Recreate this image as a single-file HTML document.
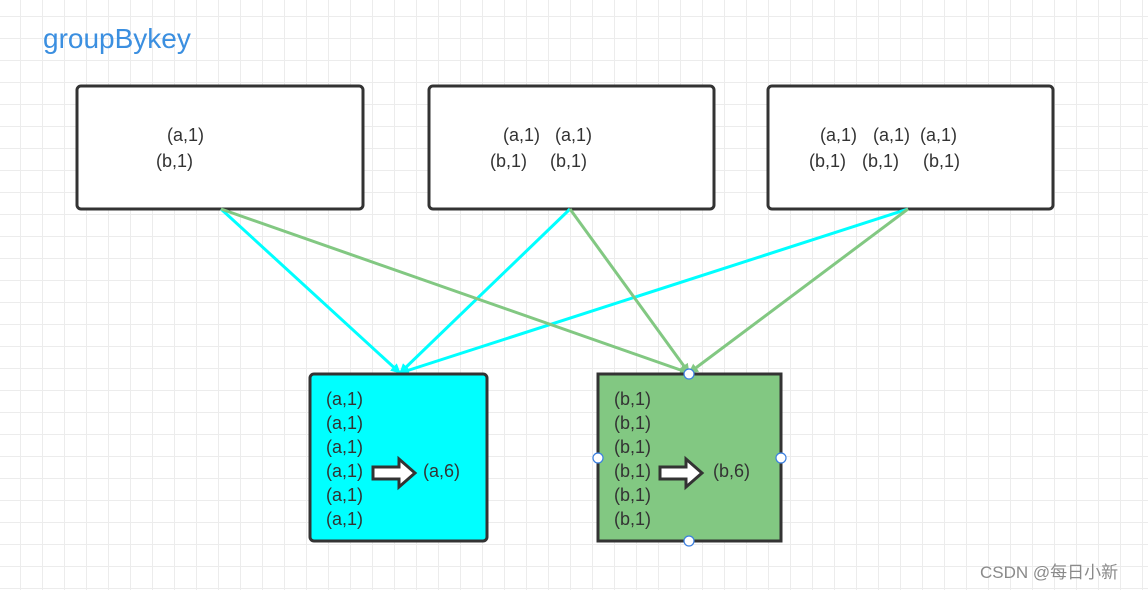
<!DOCTYPE html>
<html><head><meta charset="utf-8"><style>
html,body{margin:0;padding:0;background:#fff;}
svg{display:block;font-family:"Liberation Sans","Noto Sans CJK SC",sans-serif;}
</style></head><body>
<svg width="1148" height="590" viewBox="0 0 1148 590" xmlns="http://www.w3.org/2000/svg">
<defs>
<pattern id="g" width="22" height="22" patternUnits="userSpaceOnUse" x="-2" y="-6">
<path d="M0 0.5H22M0.5 0V22" stroke="#ececec" stroke-width="1" fill="none"/>
</pattern>
<marker id="ac" markerWidth="10" markerHeight="10" refX="9" refY="5" orient="auto" markerUnits="userSpaceOnUse" viewBox="0 0 10 10">
<path d="M0 0L10 5L0 10z" fill="#00ffff"/></marker>
<marker id="ag" markerWidth="10" markerHeight="10" refX="9" refY="5" orient="auto" markerUnits="userSpaceOnUse" viewBox="0 0 10 10">
<path d="M0 0L10 5L0 10z" fill="#82c882"/></marker>
</defs>
<rect width="1148" height="590" fill="url(#g)"/>
<text x="43" y="48" font-size="28" fill="#3b8fe0">groupBykey</text>

<g stroke="#333" stroke-width="3" fill="#fff">
<rect x="77" y="86" width="286" height="123" rx="4"/>
<rect x="429" y="86" width="285" height="123" rx="4"/>
<rect x="768" y="86" width="285" height="123" rx="4"/>
</g>
<g font-size="18" fill="#333">
<text x="167" y="141">(a,1)</text><text x="156" y="167">(b,1)</text>
<text x="503" y="141">(a,1)</text><text x="555" y="141">(a,1)</text>
<text x="490" y="167">(b,1)</text><text x="550" y="167">(b,1)</text>
<text x="820" y="141">(a,1)</text><text x="873" y="141">(a,1)</text><text x="920" y="141">(a,1)</text>
<text x="809" y="167">(b,1)</text><text x="862" y="167">(b,1)</text><text x="923" y="167">(b,1)</text>
</g>

<g stroke-width="3" fill="none">
<line x1="221" y1="209" x2="400" y2="373" stroke="#00ffff" marker-end="url(#ac)"/>
<line x1="570" y1="209" x2="400" y2="373" stroke="#00ffff" marker-end="url(#ac)"/>
<line x1="908" y1="209" x2="400" y2="373" stroke="#00ffff" marker-end="url(#ac)"/>
<line x1="221" y1="209" x2="689" y2="373" stroke="#82c882" marker-end="url(#ag)"/>
<line x1="570" y1="209" x2="689" y2="373" stroke="#82c882" marker-end="url(#ag)"/>
<line x1="908" y1="209" x2="689" y2="373" stroke="#82c882" marker-end="url(#ag)"/>
</g>

<rect x="310" y="374" width="177" height="167" rx="4" fill="#00ffff" stroke="#333" stroke-width="3"/>
<rect x="598" y="374" width="183" height="167" fill="#82c882" stroke="#333" stroke-width="3"/>

<g font-size="18" fill="#333">
<text x="326" y="405">(a,1)</text><text x="326" y="429">(a,1)</text><text x="326" y="453">(a,1)</text>
<text x="326" y="477">(a,1)</text><text x="326" y="501">(a,1)</text><text x="326" y="525">(a,1)</text>
<text x="423" y="477">(a,6)</text>
<text x="614" y="405">(b,1)</text><text x="614" y="429">(b,1)</text><text x="614" y="453">(b,1)</text>
<text x="614" y="477">(b,1)</text><text x="614" y="501">(b,1)</text><text x="614" y="525">(b,1)</text>
<text x="713" y="477">(b,6)</text>
</g>
<g fill="#fff" stroke="#333" stroke-width="3" stroke-linejoin="miter">
<path d="M373 467H399V459L415 473L399 487V479H373Z"/>
<path d="M660 467H686V459L702 473L686 487V479H660Z"/>
</g>
<g fill="#fff" stroke="#3a7fe0" stroke-width="1.2">
<circle cx="689" cy="374" r="5"/><circle cx="598" cy="458" r="5"/>
<circle cx="781" cy="458" r="5"/><circle cx="689" cy="541" r="5"/>
</g>
<text x="980" y="578" font-size="17" fill="#8a8a8a">CSDN @每日小新</text>
</svg>
</body></html>
